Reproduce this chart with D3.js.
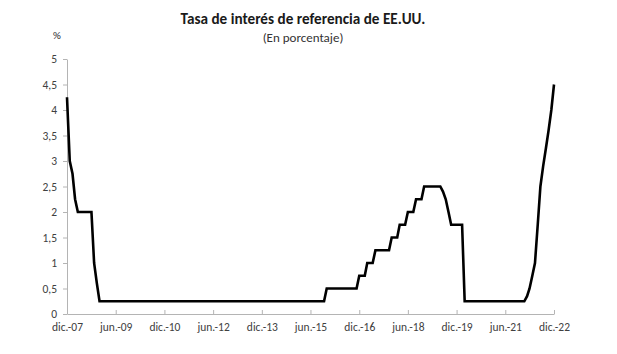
<!DOCTYPE html>
<html>
<head>
<meta charset="utf-8">
<script src="https://cdn.jsdelivr.net/npm/d3@7"></script>
<style>
  body { margin: 0; background: #fff; }
  text { font-family: Carlito, Calibri, "Open Sans", sans-serif; }
</style>
</head>
<body>
<script>
// monthly rate, dic.-07 .. dic.-22 (one line per year)
let rates = [
  4.25,
  3.0, 2.75, 2.25, 2.0, 2.0, 2.0, 2.0, 2.0, 2.0, 1.0, 0.6, 0.25,            // 2008
  0.25, 0.25, 0.25, 0.25, 0.25, 0.25, 0.25, 0.25, 0.25, 0.25, 0.25, 0.25,  // 2009
  0.25, 0.25, 0.25, 0.25, 0.25, 0.25, 0.25, 0.25, 0.25, 0.25, 0.25, 0.25,  // 2010
  0.25, 0.25, 0.25, 0.25, 0.25, 0.25, 0.25, 0.25, 0.25, 0.25, 0.25, 0.25,  // 2011
  0.25, 0.25, 0.25, 0.25, 0.25, 0.25, 0.25, 0.25, 0.25, 0.25, 0.25, 0.25,  // 2012
  0.25, 0.25, 0.25, 0.25, 0.25, 0.25, 0.25, 0.25, 0.25, 0.25, 0.25, 0.25,  // 2013
  0.25, 0.25, 0.25, 0.25, 0.25, 0.25, 0.25, 0.25, 0.25, 0.25, 0.25, 0.25,  // 2014
  0.25, 0.25, 0.25, 0.25, 0.25, 0.25, 0.25, 0.25, 0.25, 0.25, 0.25, 0.5,   // 2015
  0.5, 0.5, 0.5, 0.5, 0.5, 0.5, 0.5, 0.5, 0.5, 0.5, 0.5, 0.75,             // 2016
  0.75, 0.75, 1.0, 1.0, 1.0, 1.25, 1.25, 1.25, 1.25, 1.25, 1.25, 1.5,      // 2017
  1.5, 1.5, 1.75, 1.75, 1.75, 2.0, 2.0, 2.0, 2.25, 2.25, 2.25, 2.5,        // 2018
  2.5, 2.5, 2.5, 2.5, 2.5, 2.5, 2.4, 2.25, 2.0, 1.75, 1.75, 1.75,          // 2019
  1.75, 1.75, 0.25, 0.25, 0.25, 0.25, 0.25, 0.25, 0.25, 0.25, 0.25, 0.25,  // 2020
  0.25, 0.25, 0.25, 0.25, 0.25, 0.25, 0.25, 0.25, 0.25, 0.25, 0.25, 0.25,  // 2021
  0.25, 0.35, 0.5, 0.75, 1.0, 1.75, 2.5, 2.9, 3.25, 3.6, 4.0, 4.5          // 2022
]

let months = d3.timeMonth.range(new Date(2007, 11, 1), new Date(2023, 0, 1))
let data = months.map((m, i) => ({ date: m, rate: rates[i] }))

let xTickDates = [
  new Date(2007, 11, 1), new Date(2009, 5, 1), new Date(2010, 11, 1), new Date(2012, 5, 1),
  new Date(2013, 11, 1), new Date(2015, 5, 1), new Date(2016, 11, 1), new Date(2018, 5, 1),
  new Date(2019, 11, 1), new Date(2021, 5, 1), new Date(2022, 11, 1)
]
let xTickLabels = ['dic.-07', 'jun.-09', 'dic.-10', 'jun.-12', 'dic.-13', 'jun.-15',
  'dic.-16', 'jun.-18', 'dic.-19', 'jun.-21', 'dic.-22']

let yTicks = [0, 0.5, 1, 1.5, 2, 2.5, 3, 3.5, 4, 4.5, 5]
let yTickLabels = ['0', '0,5', '1', '1,5', '2', '2,5', '3', '3,5', '4', '4,5', '5']

width = 617
height = 354
margin = ({ left: 67, right: 63, top: 59, bottom: 40 })

let svg = d3.select('body')
  .append('svg')
  .attr('width', width)
  .attr('height', height)

let x = d3.scaleTime()
  .domain([xTickDates[0], xTickDates[xTickDates.length - 1]])
  .range([margin.left, width - margin.right])

let y = d3.scaleLinear()
  .domain([0, 5])
  .range([height - margin.bottom, margin.top])

// axes
let xAxis = d3.axisBottom(x)
  .tickValues(xTickDates)
  .tickFormat((d, i) => xTickLabels[i])
  .tickSizeInner(-4)
  .tickSizeOuter(0)
  .tickPadding(9)

let yAxis = d3.axisLeft(y)
  .tickValues(yTicks)
  .tickFormat((d, i) => yTickLabels[i])
  .tickSizeInner(4)
  .tickSizeOuter(0)
  .tickPadding(6)

svg.append('g')
  .attr('transform', `translate(0, ${height - margin.bottom})`)
  .call(xAxis)
  .call(g => g.selectAll('line, path').attr('stroke', '#b4b4b4'))
  .call(g => g.selectAll('text').attr('fill', '#404040').style('font-size', '11.5px'))

svg.append('g')
  .attr('transform', `translate(${margin.left}, 0)`)
  .call(yAxis)
  .call(g => g.selectAll('line, path').attr('stroke', '#b4b4b4'))
  .call(g => g.selectAll('text').attr('fill', '#404040').style('font-size', '11.5px'))

// series
let line = d3.line()
  .x(d => x(d.date))
  .y(d => y(d.rate))

svg.append('path')
  .datum(data)
  .attr('fill', 'none')
  .attr('stroke', '#000')
  .attr('stroke-width', 2.6)
  .attr('stroke-linejoin', 'miter')
  .attr('d', line)

// titles
svg.append('text')
  .attr('x', 303)
  .attr('y', 24)
  .attr('text-anchor', 'middle')
  .attr('font-weight', 'bold')
  .style('font-size', '15.2px')
  .attr('fill', '#1a1a1a')
  .text('Tasa de interés de referencia de EE.UU.')

svg.append('text')
  .attr('x', 303)
  .attr('y', 42)
  .attr('text-anchor', 'middle')
  .style('font-size', '13px')
  .attr('fill', '#333')
  .text('(En porcentaje)')

svg.append('text')
  .attr('x', 57)
  .attr('y', 39)
  .attr('text-anchor', 'middle')
  .style('font-size', '11px')
  .attr('fill', '#333')
  .text('%')
</script>
</body>
</html>
